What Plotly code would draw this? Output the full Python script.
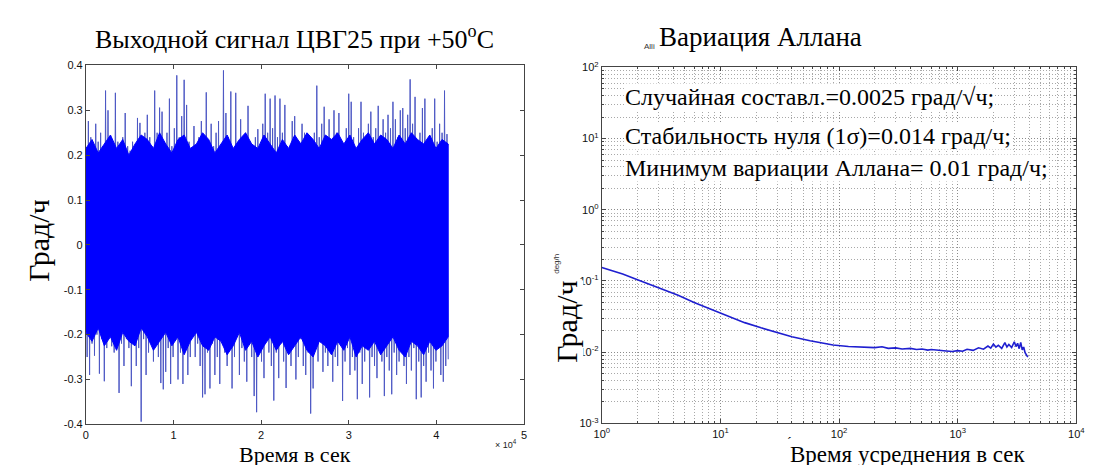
import plotly.graph_objects as go
import numpy as np

# ---------------- data: left panel (output signal, deg/h) ----------------
SIGNAL_UPPER = [
    0.21, 0.276, 0.24, 0.22, 0.27, 0.23, 0.25, 0.22, 0.344, 0.30,
    0.24, 0.22, 0.339, 0.23, 0.19, 0.24, 0.294, 0.22, 0.21, 0.23,
    0.20, 0.283, 0.272, 0.23, 0.25, 0.29, 0.24, 0.22, 0.344, 0.25,
    0.306, 0.297, 0.23, 0.25, 0.326, 0.22, 0.26, 0.378, 0.24, 0.287,
    0.368, 0.312, 0.23, 0.20, 0.265, 0.22, 0.24, 0.276, 0.21, 0.34,
    0.23, 0.27, 0.22, 0.25, 0.276, 0.20, 0.389, 0.294, 0.24, 0.342,
    0.21, 0.339, 0.23, 0.28, 0.22, 0.25, 0.31, 0.23, 0.20, 0.24,
    0.258, 0.22, 0.27, 0.337, 0.25, 0.326, 0.26, 0.333, 0.24, 0.326,
    0.25, 0.312, 0.22, 0.20, 0.276, 0.287, 0.21, 0.23, 0.27, 0.25,
    0.19, 0.22, 0.20, 0.25, 0.355, 0.24, 0.27, 0.308, 0.23, 0.28,
    0.22, 0.30, 0.25, 0.294, 0.20, 0.22, 0.26, 0.337, 0.319, 0.24,
    0.21, 0.26, 0.319, 0.25, 0.22, 0.27, 0.297, 0.24, 0.26, 0.31,
    0.23, 0.28, 0.25, 0.29, 0.26, 0.319, 0.28, 0.24, 0.30, 0.305,
    0.26, 0.29, 0.369, 0.27, 0.33, 0.23, 0.25, 0.305, 0.326, 0.22,
    0.20, 0.26, 0.326, 0.23, 0.27, 0.25, 0.344, 0.247,
]
SIGNAL_LOWER = [
    -0.25, -0.29, -0.22, -0.247, -0.20, -0.287, -0.21, -0.304, -0.23, -0.19,
    -0.226, -0.24, -0.20, -0.33, -0.22, -0.27, -0.21, -0.23, -0.315, -0.20,
    -0.27, -0.23, -0.394, -0.21, -0.29, -0.24, -0.20, -0.26, -0.22, -0.25,
    -0.308, -0.322, -0.283, -0.23, -0.31, -0.25, -0.21, -0.30, -0.24, -0.31,
    -0.22, -0.29, -0.25, -0.20, -0.25, -0.22, -0.27, -0.34, -0.333, -0.24,
    -0.32, -0.22, -0.29, -0.25, -0.31, -0.21, -0.24, -0.27, -0.22, -0.32,
    -0.25, -0.20, -0.29, -0.23, -0.26, -0.305, -0.22, -0.25, -0.337, -0.373,
    -0.23, -0.26, -0.297, -0.21, -0.24, -0.27, -0.347, -0.24, -0.297, -0.22,
    -0.26, -0.319, -0.23, -0.27, -0.22, -0.30, -0.25, -0.21, -0.27, -0.29,
    -0.24, -0.376, -0.32, -0.23, -0.26, -0.21, -0.283, -0.24, -0.27, -0.22,
    -0.305, -0.25, -0.27, -0.22, -0.348, -0.26, -0.23, -0.29, -0.25, -0.28,
    -0.344, -0.24, -0.31, -0.26, -0.23, -0.34, -0.25, -0.27, -0.297, -0.22,
    -0.26, -0.337, -0.25, -0.28, -0.333, -0.24, -0.29, -0.26, -0.22, -0.27,
    -0.31, -0.25, -0.28, -0.23, -0.344, -0.26, -0.34, -0.27, -0.305, -0.24,
    -0.28, -0.32, -0.26, -0.23, -0.29, -0.305, -0.27, -0.255,
]
# edges of the dense (solid) part of the signal band
CORE_UPPER = [
    0.215, 0.235, 0.205, 0.225, 0.245, 0.215, 0.235, 0.20, 0.225, 0.245,
    0.235, 0.215, 0.25, 0.225, 0.205, 0.235, 0.245, 0.215, 0.225, 0.25,
    0.235, 0.205, 0.225, 0.245, 0.215, 0.235, 0.25, 0.225, 0.215, 0.245,
    0.225, 0.205, 0.235, 0.215, 0.245, 0.225, 0.25, 0.235, 0.215, 0.245,
    0.235, 0.25, 0.225, 0.245, 0.215, 0.235, 0.25, 0.225, 0.245, 0.235,
    0.215, 0.245, 0.225, 0.25, 0.235, 0.225, 0.245, 0.215, 0.235, 0.225,
]
CORE_LOWER = [
    -0.195, -0.215, -0.185, -0.225, -0.205, -0.235, -0.195, -0.215, -0.225, -0.185,
    -0.205, -0.235, -0.215, -0.195, -0.225, -0.205, -0.245, -0.215, -0.195, -0.225,
    -0.235, -0.205, -0.215, -0.245, -0.225, -0.195, -0.235, -0.215, -0.25, -0.225,
    -0.205, -0.235, -0.215, -0.245, -0.225, -0.205, -0.235, -0.25, -0.215, -0.225,
    -0.245, -0.215, -0.235, -0.205, -0.25, -0.225, -0.235, -0.215, -0.245, -0.225,
    -0.205, -0.235, -0.25, -0.215, -0.225, -0.245, -0.215, -0.235, -0.225, -0.205,
]
RECORD_END_S = 41350  # last sample time, s

LEFT_XTICKS = [0, 10000, 20000, 30000, 40000, 50000]
LEFT_XTICKTEXT = ["0", "1", "2", "3", "4", "5"]
LEFT_YTICKS = [0.4, 0.3, 0.2, 0.1, 0.0, -0.1, -0.2, -0.3, -0.4]
LEFT_YTICKTEXT = ["0.4", "0.3", "0.2", "0.1", "0", "-0.1", "-0.2", "-0.3", "-0.4"]

# ---------------- data: right panel (Allan deviation) ----------------
TAU = [1, 1.5, 2, 3, 4.4, 6, 8.4, 12, 16, 22, 30, 40, 57, 70, 89, 120, 160,
       200, 230, 260, 300, 340, 400, 450, 500, 560, 600, 700, 800, 900, 1000,
       1100, 1200, 1350, 1500, 1650, 1800, 1900, 2000, 2100, 2200, 2350, 2500,
       2600, 2700, 2850, 3000, 3100, 3200, 3300, 3400, 3500, 3600, 3700, 3800, 3900]
ADEV = [0.155, 0.125, 0.104, 0.080, 0.063, 0.050, 0.040, 0.031, 0.026, 0.022,
        0.019, 0.0165, 0.0145, 0.0135, 0.0126, 0.0120, 0.0118,
        0.0116, 0.0119, 0.0113, 0.0115, 0.0111, 0.0113, 0.0109, 0.0111, 0.0107,
        0.0109, 0.0105, 0.0104, 0.0102, 0.0105,
        0.0103, 0.0110, 0.0106, 0.0115, 0.0110, 0.0122, 0.0114, 0.0130, 0.0118,
        0.0125, 0.0113, 0.0136, 0.0118, 0.0128, 0.0116, 0.0140, 0.0120, 0.0133,
        0.0112, 0.0137, 0.0108, 0.0118, 0.0098, 0.0092, 0.0085]

LOG_XTICKS = [1, 10, 100, 1000, 10000]
LOG_XTICKTEXT = ["10<sup>0</sup>", "10<sup>1</sup>", "10<sup>2</sup>", "10<sup>3</sup>", "10<sup>4</sup>"]
LOG_YTICKS = [0.001, 0.01, 0.1, 1, 10, 100]
LOG_YTICKTEXT = ["10<sup>-3</sup>", "10<sup>-2</sup>", "10<sup>-1</sup>", "10<sup>0</sup>", "10<sup>1</sup>", "10<sup>2</sup>"]

# ---------------- build figure ----------------
W, H = 1097, 465
n = len(SIGNAL_UPPER)
t_sig = np.linspace(0, RECORD_END_S, 2 * n)
y_sig = []
for u, l in zip(SIGNAL_UPPER, SIGNAL_LOWER):
    y_sig += [u, l]

t_core = list(np.linspace(0, RECORD_END_S, len(CORE_UPPER)))
x_core = t_core + t_core[::-1]
y_core = CORE_UPPER + CORE_LOWER[::-1]

minor_x = [m * 10 ** d for d in range(0, 4) for m in range(2, 10)]
minor_y = [m * 10.0 ** d for d in range(-3, 2) for m in range(2, 10)]

fig = go.Figure()
fig.add_trace(go.Scatter(x=t_sig, y=y_sig, mode="lines",
                         line=dict(color="#4d58c4", width=1),
                         xaxis="x", yaxis="y", hoverinfo="skip"))
fig.add_trace(go.Scatter(x=x_core, y=y_core, mode="lines", fill="toself",
                         fillcolor="#0000ff", line=dict(color="#0000ff", width=1),
                         xaxis="x", yaxis="y", hoverinfo="skip"))
fig.add_trace(go.Scatter(x=TAU, y=ADEV, mode="lines",
                         line=dict(color="#1f1fd0", width=1.6),
                         xaxis="x2", yaxis="y2"))

tickfont = dict(family="Liberation Sans", size=11, color="#111")
axis_common = dict(showline=True, linecolor="#444", linewidth=1, mirror="ticks",
                   ticks="inside", ticklen=4, tickcolor="#444", zeroline=False,
                   tickfont=tickfont)

GRID_DASH = "1px,2px"
grid = dict(showgrid=True, gridcolor="#8c8c8c", griddash=GRID_DASH, gridwidth=1)
minor_common = dict(ticks="inside", ticklen=2, tickcolor="#444",
                    showgrid=True, gridcolor="#a8a8a8", griddash=GRID_DASH)

fig.update_layout(
    width=W, height=H,
    margin=dict(l=0, r=0, t=0, b=0),
    paper_bgcolor="white", plot_bgcolor="white",
    showlegend=False,
    xaxis=dict(domain=[71 / W, 516 / W], range=[0, 50000],
               tickvals=LEFT_XTICKS, ticktext=LEFT_XTICKTEXT,
               showgrid=False, anchor="y", **axis_common),
    yaxis=dict(domain=[1 - 421 / H, 1 - 51 / H], range=[-0.4, 0.4],
               tickvals=LEFT_YTICKS, ticktext=LEFT_YTICKTEXT,
               showgrid=False, anchor="x", **axis_common),
    xaxis2=dict(type="log", domain=[595 / W, 1077 / W], range=[0, 4],
                tickvals=LOG_XTICKS, ticktext=LOG_XTICKTEXT, anchor="y2",
                minor=dict(tickvals=minor_x, **minor_common),
                **grid, **axis_common),
    yaxis2=dict(type="log", domain=[1 - 420 / H, 1 - 53 / H], range=[-3, 2],
                tickvals=LOG_YTICKS, ticktext=LOG_YTICKTEXT, anchor="x2",
                minor=dict(tickvals=minor_y, **minor_common),
                **grid, **axis_common),
)

serif = "Liberation Serif"
sans = "Liberation Sans"


def ann(text, px, py, size, xanchor="center", yanchor="middle", angle=0,
        family=serif, bg=None, color="black"):
    d = dict(text=text, x=px / W, y=1 - py / H, xref="paper", yref="paper",
             showarrow=False, xanchor=xanchor, yanchor=yanchor, textangle=angle,
             font=dict(family=family, size=size, color=color))
    if bg:
        d["bgcolor"] = bg
        d["borderpad"] = 0
    fig.add_annotation(**d)


# titles
ann("Выходной сигнал ЦВГ25 при +50<sup>o</sup>C", 283, 22, 26)
ann("Вариация Аллана", 756, 22, 27)
ann("Alli", 643, 31, 8, family=sans, color="#333")

# axis labels
ann("Время в сек", 283, 452, 22)
ann("Время усреднения в сек", 906, 452, 23)
ann("´", 786, 440, 14)
ann("Град/ч", 22, 232, 30, angle=-90)
ann("deg/h", 549, 255, 8, angle=-90, family=sans, color="#333")
ann("Град/ч", 559, 315, 30, angle=-90, bg="white")
ann("× 10<sup>4</sup>", 498, 441, 9, family=sans, color="#222")

# statistics text
ann("Случайная составл.=0.0025 град/√ч;", 618, 84, 24, xanchor="left", bg="white")
ann("Стабильность нуля (1σ)=0.014 град/ч;", 618, 124, 24, xanchor="left", bg="white")
ann("Минимум вариации Аллана= 0.01 град/ч;", 618, 157, 24, xanchor="left", bg="white")

fig.write_html("out.html")
